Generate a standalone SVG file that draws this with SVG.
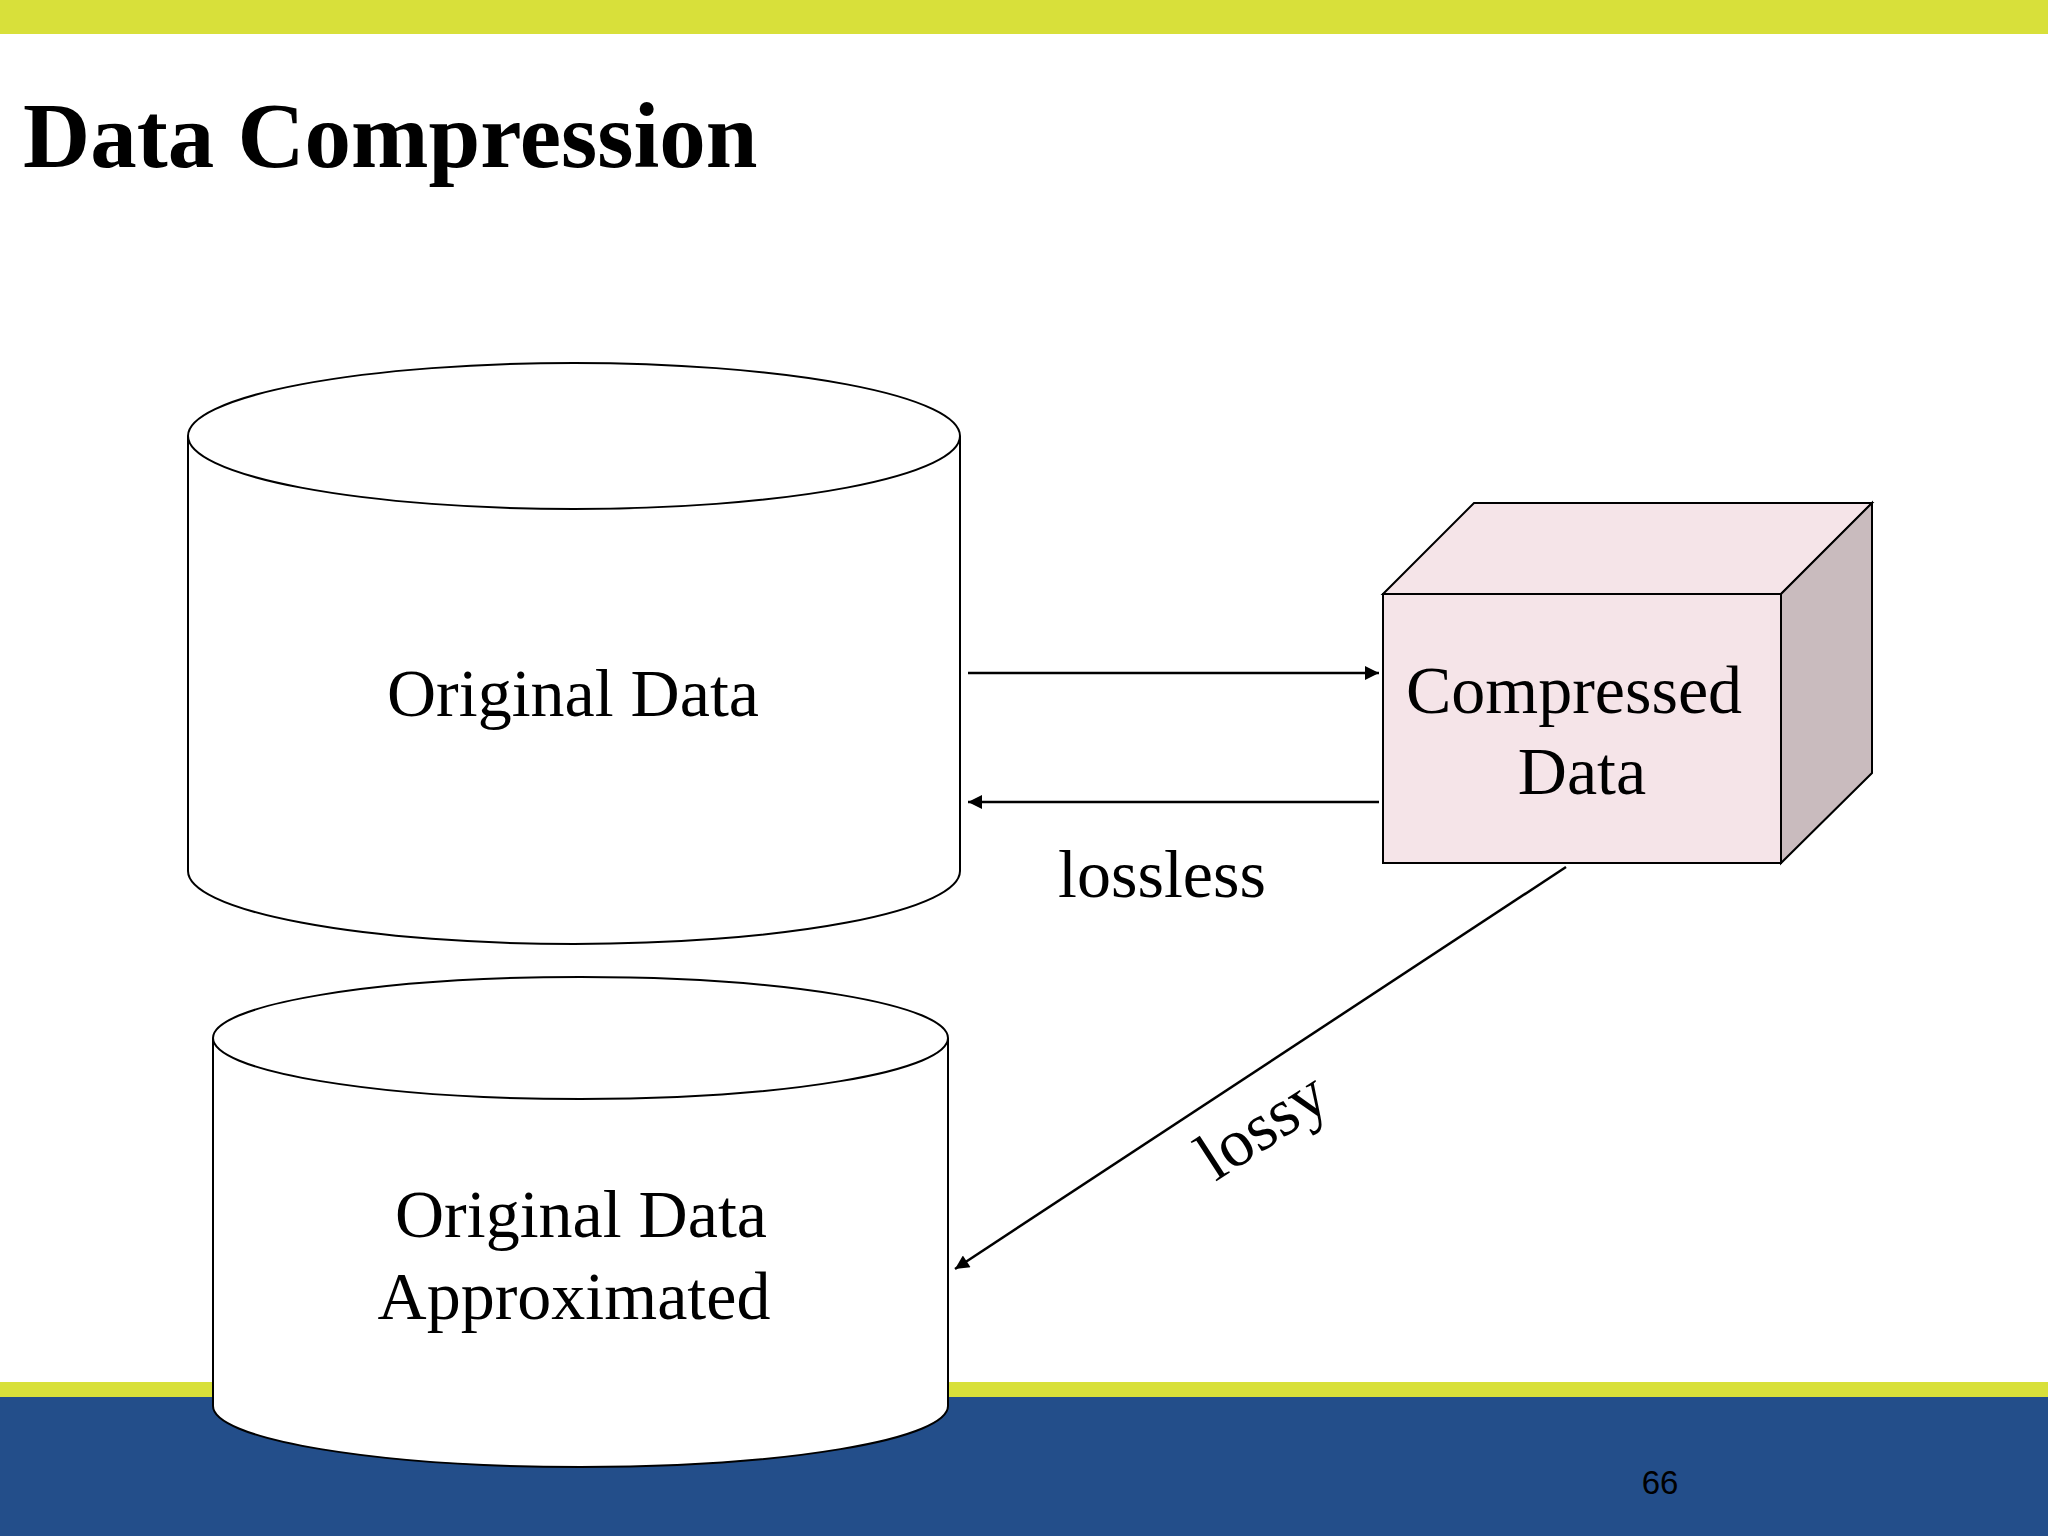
<svg xmlns="http://www.w3.org/2000/svg" width="2048" height="1536" viewBox="0 0 2048 1536">
<defs>
<style>
.t{font-family:"Liberation Serif","Times New Roman",serif;fill:#000}
.s{stroke:#000;stroke-width:2;fill:#fff}
.c{stroke:#000;stroke-width:2.5;fill:none}
</style>
<marker id="a" viewBox="0 0 10 10" refX="10" refY="5" markerWidth="16" markerHeight="14" orient="auto" markerUnits="userSpaceOnUse"><path d="M0,0 L10,5 L0,10 z" fill="#000"/></marker>
</defs>
<rect width="2048" height="1536" fill="#fff"/>
<rect width="2048" height="34" fill="#D8E03A"/>
<rect y="1382" width="2048" height="15" fill="#D8E03A"/>
<rect y="1397" width="2048" height="139" fill="#234E8A"/>
<text class="t" x="23" y="167" font-size="93" font-weight="bold">Data Compression</text>
<g id="original">
<path class="s" d="M188,436 V871 A386,73 0 0 0 960,871 V436"/>
<ellipse class="s" cx="574" cy="436" rx="386" ry="73"/>
<text class="t" x="573" y="716" font-size="68" text-anchor="middle">Original Data</text>
</g>
<g id="approx">
<path class="s" d="M213,1038 V1406 A367.5,61 0 0 0 948,1406 V1038"/>
<ellipse class="s" cx="580.5" cy="1038" rx="367.5" ry="61"/>
<text class="t" x="581" y="1237" font-size="68" text-anchor="middle">Original Data</text>
<text class="t" x="574" y="1319" font-size="68" text-anchor="middle">Approximated</text>
</g>
<g id="compressed">
<polygon points="1383,594 1474,503 1872,503 1781,594" fill="#F5E4E8" stroke="#000" stroke-width="2"/>
<polygon points="1781,594 1872,503 1872,773 1781,863" fill="#C9BBBE" stroke="#000" stroke-width="2"/>
<rect x="1383" y="594" width="398" height="269" fill="#F5E4E8" stroke="#000" stroke-width="2"/>
<text class="t" x="1574" y="713" font-size="68" text-anchor="middle">Compressed</text>
<text class="t" x="1582" y="794" font-size="68" text-anchor="middle">Data</text>
</g>
<g id="connectors">
<line class="c" x1="968" y1="673" x2="1379" y2="673" marker-end="url(#a)"/>
<line class="c" x1="1379" y1="802" x2="968" y2="802" marker-end="url(#a)"/>
<line class="c" x1="1566" y1="867" x2="955" y2="1269" marker-end="url(#a)"/>
<text class="t" x="1162" y="897" font-size="68" text-anchor="middle">lossless</text>
<text class="t" x="0" y="0" font-size="68" text-anchor="middle" transform="translate(1274,1144) rotate(-33)">lossy</text>
</g>
<text x="1660" y="1494" font-family="Liberation Sans, Arial, sans-serif" font-size="33" fill="#000" text-anchor="middle">66</text>
</svg>
